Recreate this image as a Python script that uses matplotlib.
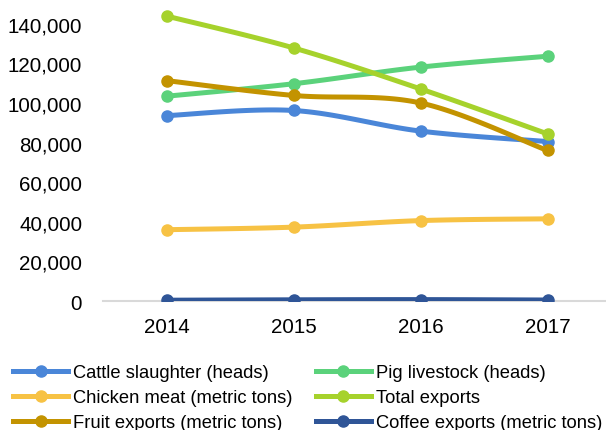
import matplotlib
matplotlib.use("Agg")
import matplotlib.pyplot as plt
from matplotlib.ticker import FuncFormatter
import numpy as np

plt.rcParams['font.family'] = ['Liberation Sans', 'DejaVu Sans']

# === DATA ===
years = ["2014", "2015", "2016", "2017"]
cattle = [93600, 96200, 85800, 80500]
pig = [103400, 109700, 118100, 123600]
chicken = [36000, 37300, 40600, 41500]
total_exports = [143900, 127800, 107100, 84400]
fruit = [111300, 103800, 100000, 76000]
coffee = [400, 600, 700, 500]

series = [
    ("Cattle slaughter (heads)", cattle, "#4a86d8"),
    ("Pig livestock (heads)", pig, "#5bd27b"),
    ("Chicken meat (metric tons)", chicken, "#f7c244"),
    ("Total exports", total_exports, "#a6d22c"),
    ("Fruit exports (metric tons)", fruit, "#c39300"),
    ("Coffee exports (metric tons)", coffee, "#2f5597"),
]


def smooth(xs, ys, n=40):
    # bezier through the points, excel style smoothing
    xs = np.asarray(xs, float)
    ys = np.asarray(ys, float)
    px = np.concatenate([[xs[0]], xs, [xs[-1]]])
    py = np.concatenate([[ys[0]], ys, [ys[-1]]])
    out_x, out_y = [], []
    t = np.linspace(0, 1, n)
    for i in range(1, len(px) - 2):
        p0 = np.array([px[i], py[i]])
        p3 = np.array([px[i + 1], py[i + 1]])
        c1 = p0 + (np.array([px[i + 1], py[i + 1]]) - np.array([px[i - 1], py[i - 1]])) / 6
        c2 = p3 - (np.array([px[i + 2], py[i + 2]]) - np.array([px[i], py[i]])) / 6
        b = ((1 - t) ** 3)[:, None] * p0 + (3 * (1 - t) ** 2 * t)[:, None] * c1 \
            + (3 * (1 - t) * t ** 2)[:, None] * c2 + (t ** 3)[:, None] * p3
        out_x.extend(b[:, 0])
        out_y.extend(b[:, 1])
    return out_x, out_y


fig = plt.figure(figsize=(6.06, 4.31), dpi=100)
ax = fig.add_axes([103 / 606, 129 / 431, 508 / 606, 302 / 431])

x = np.arange(len(years))
handles = {}
for name, vals, col in series:
    sx, sy = smooth(x, vals)
    ax.plot(sx, sy, color=col, lw=3.6, solid_capstyle='round', zorder=3)
    ax.plot(x, vals, 'o', color=col, ms=8, zorder=3)
    handles[name] = plt.Line2D([0], [0], color=col, lw=3.6, marker='o', ms=8)

ax.set_xlim(-0.5, 3.5)
ax.set_ylim(0, 152500)
ax.set_xticks(x)
ax.set_xticklabels(years)
ax.set_yticks(np.arange(0, 140001, 20000))
ax.yaxis.set_major_formatter(FuncFormatter(lambda v, p: f"{int(v):,}"))
ax.tick_params(axis='both', length=0, labelsize=14.8, colors='#000000')
ax.tick_params(axis='y', pad=15)
ax.tick_params(axis='x', pad=11.5)
for s in ['top', 'right', 'left']:
    ax.spines[s].set_visible(False)
ax.spines['bottom'].set_color('#d9d9d9')
ax.spines['bottom'].set_linewidth(1.5)

order = ["Cattle slaughter (heads)", "Chicken meat (metric tons)", "Fruit exports (metric tons)",
         "Pig livestock (heads)", "Total exports", "Coffee exports (metric tons)"]
fig.legend([handles[k] for k in order], order, ncol=2, loc='upper left',
           bbox_to_anchor=(13 / 606, 66 / 431), frameon=False, fontsize=13.2,
           borderpad=0, borderaxespad=0, handlelength=3.0, handletextpad=0.25,
           columnspacing=1.3, labelspacing=0.45)

plt.savefig("out.png", dpi=100)
